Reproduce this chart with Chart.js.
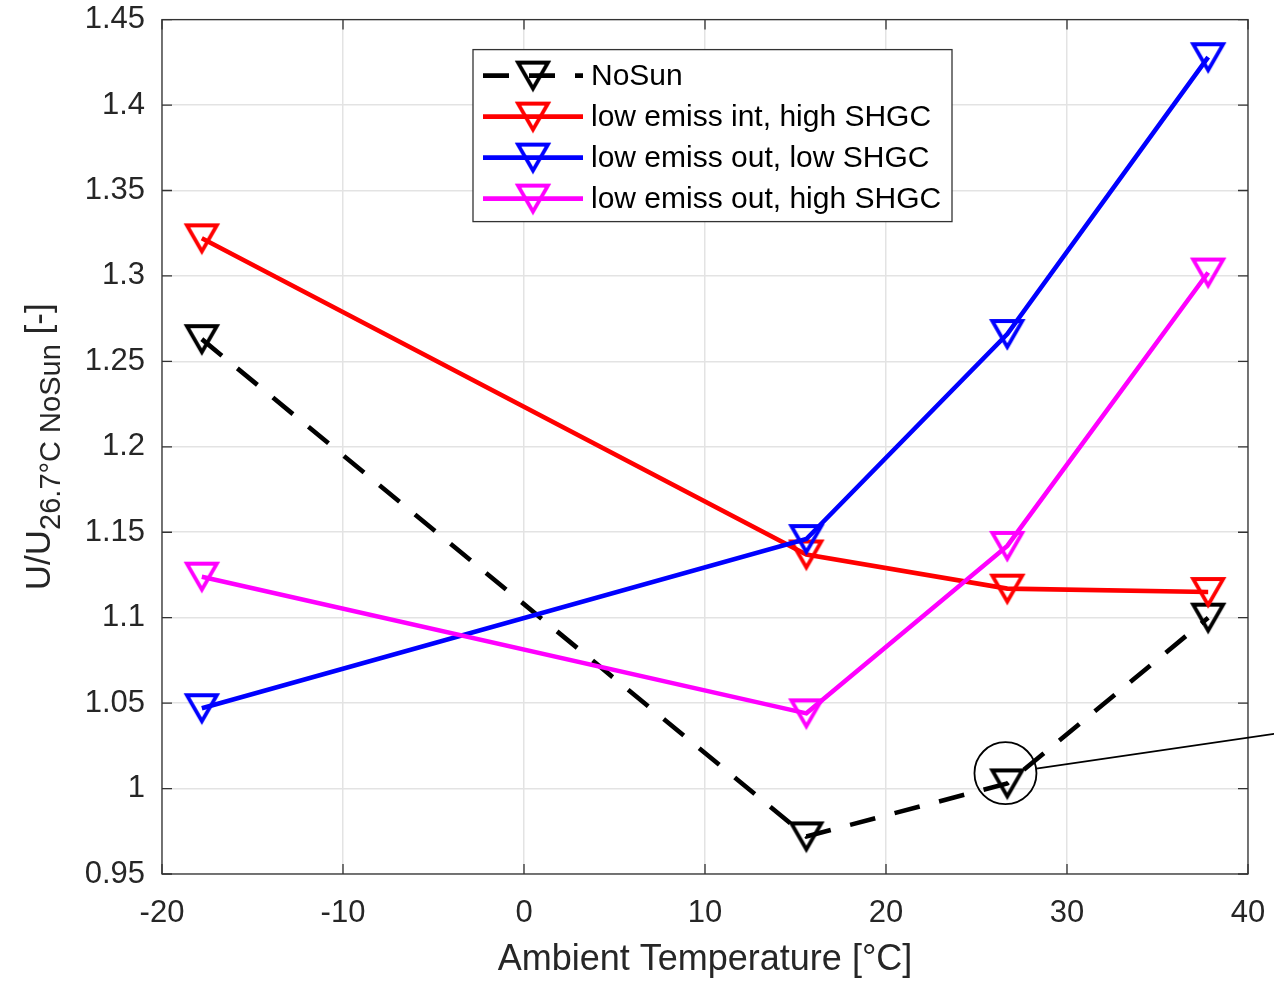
<!DOCTYPE html>
<html>
<head>
<meta charset="utf-8">
<script src="https://cdn.jsdelivr.net/npm/chart.js@4.4.0/dist/chart.umd.min.js"></script>
<style>
  html, body { margin: 0; padding: 0; background: #ffffff; }
  canvas { display: block; }
</style>
</head>
<body>
<canvas id="chart" width="1274" height="984"></canvas>
<script>
// Ambient temperatures (°C) at which the ratios were evaluated
const temps = [-17.8, 15.6, 26.7, 37.8];
// U / U(26.7°C, NoSun) for each glazing case
const noSun = [1.263, 0.972, 1.003, 1.100];
const intHighShgc = [1.322, 1.137, 1.117, 1.115];
const outLowShgc = [1.047, 1.146, 1.266, 1.428];
const outHighShgc = [1.124, 1.044, 1.142, 1.302];

const seriesNames = ['NoSun', 'low emiss int, high SHGC', 'low emiss out, low SHGC', 'low emiss out, high SHGC'];
const seriesColors = ['#000000', '#ff0000', '#0000ff', '#ff00ff'];

const xTicks = [-20, -10, 0, 10, 20, 30, 40];
const xTickLabels = ['-20', '-10', '0', '10', '20', '30', '40'];
const yTicks = [0.95, 1, 1.05, 1.1, 1.15, 1.2, 1.25, 1.3, 1.35, 1.4, 1.45];
const yTickLabels = ['0.95', '1', '1.05', '1.1', '1.15', '1.2', '1.25', '1.3', '1.35', '1.4', '1.45'];

const xTitle = 'Ambient Temperature [°C]';
const yTitleMain = 'U/U';
const yTitleSub = '26.7°C NoSun';
const yTitleEnd = ' [-]';

// Circled reference reading and the end of its leader line
const calloutCenter = { x: 26.6, y: 1.009 };
const calloutEnd = { x: 41.45, y: 1.032 };

const FONT = "'Liberation Sans', Arial, Helvetica, sans-serif";
const AXIS_COLOR = '#333333';
const TEXT_COLOR = '#262626';

// Hollow downward triangle marker, centred on its bounding box
function downTriangle(color) {
  const c = document.createElement('canvas');
  c.width = 44; c.height = 44;
  const g = c.getContext('2d');
  g.strokeStyle = color;
  g.lineWidth = 3.8;
  g.lineJoin = 'miter';
  g.beginPath();
  g.moveTo(7, 9);
  g.lineTo(37, 9);
  g.lineTo(22, 35);
  g.closePath();
  g.stroke();
  return c;
}
const markers = seriesColors.map(downTriangle);

const seriesValues = [noSun, intHighShgc, outLowShgc, outHighShgc];
const dashes = [[26, 20], [], [], []];

const datasets = seriesValues.map((vals, i) => ({
  label: seriesNames[i],
  data: temps.map((t, k) => ({ x: t, y: vals[k] })),
  borderColor: seriesColors[i],
  backgroundColor: seriesColors[i],
  borderWidth: 4.6,
  borderDash: dashes[i],
  pointStyle: markers[i],
  pointRadius: 15,
  pointHoverRadius: 15,
  tension: 0,
  fill: false,
  clip: false,
  order: seriesValues.length - 1 - i
}));

// Box around the plot area with inward tick marks on all four sides
const axesBox = {
  id: 'axesBox',
  afterDatasetsDraw(chart) {
    const { ctx, chartArea: a, scales: { x, y } } = chart;
    ctx.save();
    ctx.strokeStyle = AXIS_COLOR;
    ctx.lineWidth = 1.3;
    ctx.beginPath();
    xTicks.forEach(v => {
      const px = x.getPixelForValue(v);
      ctx.moveTo(px, a.bottom); ctx.lineTo(px, a.bottom - 10);
      ctx.moveTo(px, a.top); ctx.lineTo(px, a.top + 10);
    });
    yTicks.forEach(v => {
      const py = y.getPixelForValue(v);
      ctx.moveTo(a.left, py); ctx.lineTo(a.left + 10, py);
      ctx.moveTo(a.right, py); ctx.lineTo(a.right - 10, py);
    });
    ctx.stroke();
    ctx.strokeRect(a.left, a.top, a.right - a.left, a.bottom - a.top);
    ctx.restore();
  }
};

// Y axis title with a subscripted reference condition
const yTitle = {
  id: 'yTitle',
  afterDraw(chart) {
    const { ctx, chartArea: a } = chart;
    const mainFont = '35px ' + FONT;
    const subFont = '29px ' + FONT;
    ctx.save();
    ctx.font = mainFont; const w1 = ctx.measureText(yTitleMain).width;
    const w3 = ctx.measureText(yTitleEnd).width;
    ctx.font = subFont; const w2 = ctx.measureText(yTitleSub).width;
    const total = w1 + w2 + w3;
    ctx.translate(50, (a.top + a.bottom) / 2);
    ctx.rotate(-Math.PI / 2);
    ctx.fillStyle = TEXT_COLOR;
    ctx.textBaseline = 'alphabetic';
    ctx.textAlign = 'left';
    let xPos = -total / 2;
    ctx.font = mainFont; ctx.fillText(yTitleMain, xPos, 0); xPos += w1;
    ctx.font = subFont; ctx.fillText(yTitleSub, xPos, 10); xPos += w2;
    ctx.font = mainFont; ctx.fillText(yTitleEnd, xPos, 0);
    ctx.restore();
  }
};

// Legend: line sample with marker, then the series name
const legendBox = {
  id: 'legendBox',
  afterDraw(chart) {
    const { ctx, chartArea: a } = chart;
    const left = a.left + 311, top = a.top + 30, width = 479, height = 172;
    ctx.save();
    ctx.fillStyle = '#ffffff';
    ctx.fillRect(left, top, width, height);
    ctx.strokeStyle = AXIS_COLOR;
    ctx.lineWidth = 1.3;
    ctx.strokeRect(left, top, width, height);
    chart.data.datasets.forEach((ds, i) => {
      const rowY = top + 26 + i * 41;
      ctx.strokeStyle = ds.borderColor;
      ctx.lineWidth = ds.borderWidth;
      ctx.setLineDash(ds.borderDash);
      ctx.beginPath();
      ctx.moveTo(left + 10, rowY);
      ctx.lineTo(left + 110, rowY);
      ctx.stroke();
      ctx.setLineDash([]);
      const m = ds.pointStyle;
      ctx.drawImage(m, left + 60 - m.width / 2, rowY - m.height / 2);
      ctx.fillStyle = '#000000';
      ctx.font = '30px ' + FONT;
      ctx.textBaseline = 'middle';
      ctx.textAlign = 'left';
      ctx.fillText(ds.label, left + 118, rowY + 1);
    });
    ctx.restore();
  }
};

// Circle around one reading with a leader line running off to the right
const callout = {
  id: 'callout',
  afterDraw(chart) {
    const { ctx, scales: { x, y } } = chart;
    const cx = x.getPixelForValue(calloutCenter.x);
    const cy = y.getPixelForValue(calloutCenter.y);
    const ex = x.getPixelForValue(calloutEnd.x);
    const ey = y.getPixelForValue(calloutEnd.y);
    const r = 31;
    const ang = Math.atan2(ey - cy, ex - cx);
    ctx.save();
    ctx.strokeStyle = '#000000';
    ctx.lineWidth = 1.8;
    ctx.beginPath();
    ctx.arc(cx, cy, r, 0, Math.PI * 2);
    ctx.stroke();
    ctx.beginPath();
    ctx.moveTo(cx + r * Math.cos(ang), cy + r * Math.sin(ang));
    ctx.lineTo(ex, ey);
    ctx.stroke();
    ctx.restore();
  }
};

new Chart(document.getElementById('chart'), {
  type: 'line',
  data: { datasets },
  options: {
    responsive: false,
    animation: false,
    devicePixelRatio: 1,
    layout: { padding: { top: 19, right: 26, left: 0, bottom: 0 } },
    plugins: { legend: { display: false }, tooltip: { enabled: false } },
    scales: {
      x: {
        type: 'linear',
        min: -20,
        max: 40,
        afterBuildTicks: s => { s.ticks = xTicks.map(v => ({ value: v })); },
        afterFit: s => { s.height = 110; s.paddingLeft = 0; s.paddingRight = 0; },
        grid: { color: '#e3e3e3', lineWidth: 1.5, drawTicks: false },
        border: { display: false },
        ticks: {
          font: { family: FONT, size: 31 },
          color: TEXT_COLOR,
          padding: 21,
          maxRotation: 0,
          autoSkip: false,
          callback: (v, i) => xTickLabels[i]
        },
        title: {
          display: true,
          text: xTitle,
          font: { family: FONT, size: 36 },
          color: TEXT_COLOR,
          padding: { top: 0, bottom: 2 }
        }
      },
      y: {
        type: 'linear',
        min: 0.95,
        max: 1.45,
        afterBuildTicks: s => { s.ticks = yTicks.map(v => ({ value: v })); },
        afterFit: s => { s.width = 162; s.paddingTop = 0; s.paddingBottom = 0; },
        grid: { color: '#e3e3e3', lineWidth: 1.5, drawTicks: false },
        border: { display: false },
        ticks: {
          font: { family: FONT, size: 31 },
          color: TEXT_COLOR,
          padding: 17,
          autoSkip: false,
          callback: (v, i) => yTickLabels[i]
        }
      }
    }
  },
  plugins: [axesBox, legendBox, yTitle, callout]
});
</script>
</body>
</html>
